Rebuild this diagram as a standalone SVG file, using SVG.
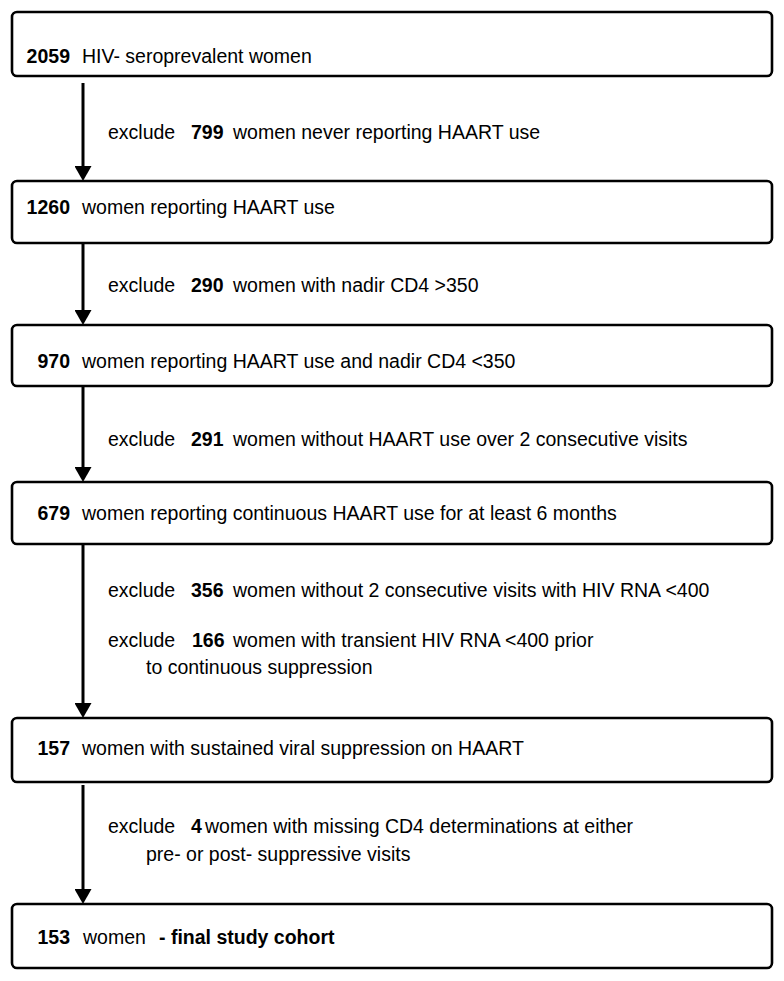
<svg xmlns="http://www.w3.org/2000/svg" width="784" height="981" viewBox="0 0 784 981">
<defs>
<style>
.box{fill:#fff;stroke:#000;stroke-width:2.6}
.t{font-family:"Liberation Sans",Arial,sans-serif;font-size:19.5px;fill:#000}
.b{font-weight:bold}
.con{stroke:#000;stroke-width:3;fill:none}
</style>
<marker id="ah" viewBox="0 0 15 17" refX="10" refY="8.5" markerWidth="15" markerHeight="17" markerUnits="userSpaceOnUse" orient="auto">
<path d="M0,0 L15,8.5 L0,17 Z" fill="#000"/>
</marker>
</defs>
<rect width="784" height="981" fill="#fff"/>

<g id="connectors">
<line class="con" x1="83" y1="83" x2="83" y2="176" marker-end="url(#ah)"/>
<line class="con" x1="83" y1="243" x2="83" y2="320" marker-end="url(#ah)"/>
<line class="con" x1="83" y1="386" x2="83" y2="477" marker-end="url(#ah)"/>
<line class="con" x1="83" y1="544" x2="83" y2="713" marker-end="url(#ah)"/>
<line class="con" x1="83" y1="785" x2="83" y2="899" marker-end="url(#ah)"/>
</g>

<g id="labels">
<text class="t" y="139"><tspan x="108">exclude</tspan><tspan x="191" class="b">799</tspan><tspan x="233">women never reporting HAART use</tspan></text>
<text class="t" y="292"><tspan x="108">exclude</tspan><tspan x="191" class="b">290</tspan><tspan x="233">women with nadir CD4 &gt;350</tspan></text>
<text class="t" y="446"><tspan x="108">exclude</tspan><tspan x="191" class="b">291</tspan><tspan x="233">women without HAART use over 2 consecutive visits</tspan></text>
<text class="t" y="597"><tspan x="108">exclude</tspan><tspan x="191" class="b">356</tspan><tspan x="233">women without 2 consecutive visits with HIV RNA &lt;400</tspan></text>
<text class="t" y="647"><tspan x="108">exclude</tspan><tspan x="192" class="b">166</tspan><tspan x="233">women with transient HIV RNA &lt;400 prior</tspan></text>
<text class="t" x="146" y="674">to continuous suppression</text>
<text class="t" y="833"><tspan x="108">exclude</tspan><tspan x="191" class="b">4</tspan><tspan x="205">women with missing CD4 determinations at either</tspan></text>
<text class="t" x="146" y="861">pre- or post- suppressive visits</text>
</g>

<g id="n1">
<rect class="box" x="12" y="12" width="760" height="64" rx="5"/>
<text class="t" y="63"><tspan x="70" text-anchor="end" class="b">2059</tspan><tspan x="82">HIV- seroprevalent women</tspan></text>
</g>
<g id="n2">
<rect class="box" x="12" y="181" width="760" height="62" rx="5"/>
<text class="t" y="214"><tspan x="70" text-anchor="end" class="b">1260</tspan><tspan x="82">women reporting HAART use</tspan></text>
</g>
<g id="n3">
<rect class="box" x="12" y="325" width="760" height="61" rx="5"/>
<text class="t" y="368"><tspan x="70" text-anchor="end" class="b">970</tspan><tspan x="82">women reporting HAART use and nadir CD4 &lt;350</tspan></text>
</g>
<g id="n4">
<rect class="box" x="12" y="482" width="760" height="62" rx="5"/>
<text class="t" y="520"><tspan x="70" text-anchor="end" class="b">679</tspan><tspan x="82">women reporting continuous HAART use for at least 6 months</tspan></text>
</g>
<g id="n5">
<rect class="box" x="12" y="718" width="760" height="64" rx="5"/>
<text class="t" y="755"><tspan x="70" text-anchor="end" class="b">157</tspan><tspan x="82">women with sustained viral suppression on HAART</tspan></text>
</g>
<g id="n6">
<rect class="box" x="12" y="904" width="760" height="64" rx="5"/>
<text class="t" y="944"><tspan x="70" text-anchor="end" class="b">153</tspan><tspan x="83">women</tspan><tspan x="159" class="b">- final study cohort</tspan></text>
</g>
</svg>
